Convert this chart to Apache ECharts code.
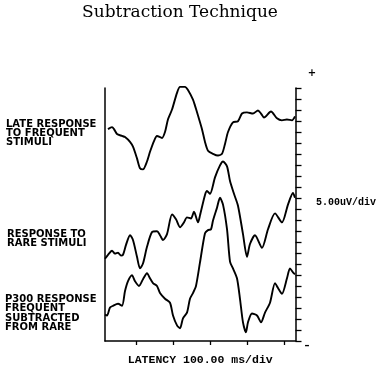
<!DOCTYPE html>
<html>
<head>
<meta charset="utf-8">
<script src="https://cdn.jsdelivr.net/npm/echarts@6/dist/echarts.min.js"></script>
<style>html,body{margin:0;padding:0;background:#fff}#c{width:384px;height:371px}</style>
</head>
<body>
<div id="c"></div>
<script>
// Latency (ms) and amplitude (uV, traces stacked with offsets)
const freqLatency = [24.1,34.9,40.3,48.4,61.9,70.0,83.5,91.5,102.3,110.4,118.5,129.3,137.4,148.2,156.3,169.8,177.9,186.0,196.8,210.3,218.4,231.8,239.9,253.4,258.8,266.9,277.7,285.8,293.9,307.4,320.9,331.7,339.8,347.9,361.3,374.8,385.6,399.1,415.3,428.8,436.9,445.0,463.8,480.0,493.5,507.0,520.5,528.6];
const freqValues  = [96.3,97.2,96.3,94.1,93.2,92.7,90.5,88.3,83.0,78.5,78.0,81.6,86.0,90.9,93.2,92.3,95.0,100.8,105.2,112.8,115.5,115.5,114.1,109.7,107.0,102.5,96.3,90.5,86.5,85.1,84.3,85.1,89.6,95.0,99.4,99.9,103.4,103.9,103.4,104.8,103.4,101.6,104.3,101.2,100.3,100.7,100.3,102.1];

const rareLatency = [16,24.1,34.9,43.0,51.1,59.2,64.6,72.7,83.5,91.5,102.3,110.4,118.5,129.3,142.8,156.3,164.4,172.5,183.3,196.8,207.6,218.4,229.1,237.2,248.0,256.1,266.9,272.3,285.8,291.2,299.3,312.8,326.3,334.4,345.2,353.3,364.0,374.8,388.3,399.1,407.2,420.7,439.6,455.8,474.7,493.5,509.7,523.2,528.6];
const rareValues  = [37.4,39.2,41.0,39.7,40.1,38.8,39.2,43.7,48.1,45.9,38.3,33.0,35.2,42.8,49.5,49.9,48.1,45.9,48.6,57.5,55.3,51.7,53.9,56.2,55.7,58.8,53.9,57.1,66.4,68.2,66.9,74.4,79.8,81.6,79.4,72.7,66.9,61.5,48.6,38.3,44.1,48.1,42.4,50.8,58.0,53.9,62.0,67.3,65.1];

const p300Latency = [16,21.4,29.5,37.6,51.1,61.9,70.0,78.1,88.8,96.9,107.7,118.5,129.3,137.4,145.5,156.3,164.4,177.9,191.4,199.5,210.3,218.4,226.4,237.2,245.3,253.4,261.5,272.3,285.8,293.9,302.0,307.4,318.2,326.3,334.4,345.2,353.3,361.3,372.1,380.2,388.3,396.4,401.8,412.6,426.1,436.9,447.7,461.2,474.7,482.8,493.5,507.0,515.1,523.2,528.6];
const p300Values  = [12.0,11.6,15.2,16.0,16.9,16.0,22.7,27.2,29.9,27.2,25.0,28.1,30.8,28.5,26.3,25.0,21.8,19.2,17.4,11.6,7.1,5.8,10.3,12.9,19.2,21.8,25.0,35.7,49.0,50.4,50.8,54.8,60.6,65.1,62.0,50.8,36.1,33.0,28.5,19.2,8.5,4.0,8.5,12.5,11.6,8.5,12.9,17.4,26.3,24.1,21.4,28.5,33.0,31.2,30.3];

const xTickValues = [100,200,300,400,500];
const traceLabels = [
  ["LATE RESPONSE","TO FREQUENT","STIMULI"],
  ["RESPONSE TO","RARE STIMULI"],
  ["P300 RESPONSE","FREQUENT","SUBTRACTED","FROM RARE"]
];

const pair = (xs, ys) => xs.map((x,i)=>[x, ys[i]]);
const chart = echarts.init(document.getElementById('c'), null, {renderer:'canvas'});

const labelTops = [[6,124],[7,234.5],[5,299.5]];
const graphics = [];
traceLabels.forEach((lines, k) => {
  lines.forEach((t, j) => {
    graphics.push({type:'text', left: labelTops[k][0], top: labelTops[k][1] + j*9.4 - 5,
      style:{text:t, fill:'#000', font:'bold 10px "DejaVu Sans"', verticalAlign:'top'}});
  });
});
graphics.push({type:'text', x:180, y:13, style:{text:'Subtraction Technique', fill:'#000', font:'17px "DejaVu Serif"', align:'center', verticalAlign:'middle'}});
graphics.push({type:'text', x:316, y:202, style:{text:'5.00uV/div', fill:'#000', font:'bold 10px "Liberation Mono"', align:'left', verticalAlign:'middle'}});
graphics.push({type:'text', x:312, y:73, style:{text:'+', fill:'#000', font:'bold 10px "DejaVu Sans"', align:'center', verticalAlign:'middle'}});
graphics.push({type:'text', x:307, y:346, style:{text:'–', fill:'#000', font:'bold 10px "DejaVu Sans"', align:'center', verticalAlign:'middle'}});

const lineStyle = {color:'#000', width:1.9};
const mk = (name, data) => ({type:'line', name, data, showSymbol:false, smooth:0.25, clip:false, lineStyle, yAxisIndex:0});

chart.setOption({
  animation:false,
  backgroundColor:'#fff',
  grid:{left:105, right:88.5, top:88, bottom:25},
  xAxis:{type:'value', min:16, max:530,
    name:'LATENCY 100.00 ms/div', nameLocation:'middle', nameGap:13,
    nameTextStyle:{color:'#000', fontFamily:'Liberation Mono', fontSize:11.5, fontWeight:'bold'},
    axisLine:{show:true, onZero:false, lineStyle:{color:'#000', width:1.5}},
    axisTick:{show:true, inside:false, length:4, customValues:xTickValues, lineStyle:{color:'#000', width:1.3}},
    axisLabel:{show:false}, splitLine:{show:false}},
  yAxis:[
    {type:'value', position:'right', min:0, max:115, interval:5,
      axisLine:{show:true, lineStyle:{color:'#000', width:1.5}},
      axisTick:{show:true, inside:false, length:6, lineStyle:{color:'#000', width:1.3}},
      axisLabel:{show:false}, splitLine:{show:false}},
    {type:'value', position:'left', min:0, max:115,
      axisLine:{show:true, lineStyle:{color:'#000', width:1.5}},
      axisTick:{show:false}, axisLabel:{show:false}, splitLine:{show:false}}
  ],
  series:[
    mk('Late response to frequent stimuli', pair(freqLatency, freqValues)),
    mk('Response to rare stimuli', pair(rareLatency, rareValues)),
    mk('P300 response (frequent subtracted from rare)', pair(p300Latency, p300Values))
  ],
  graphic: graphics
});
</script>
</body>
</html>
